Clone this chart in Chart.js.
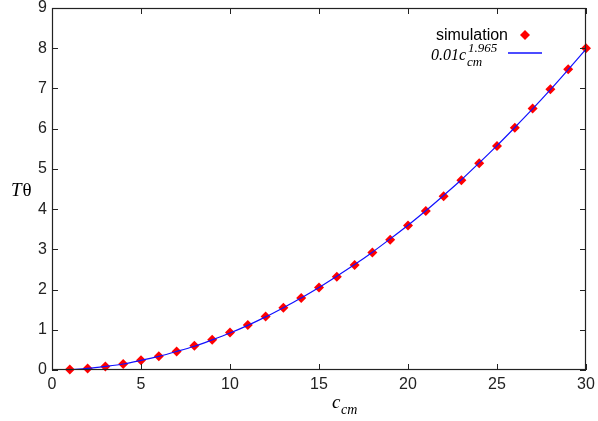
<!DOCTYPE html>
<html>
<head>
<meta charset="utf-8">
<script src="https://cdn.jsdelivr.net/npm/chart.js@4.4.1/dist/chart.umd.min.js"></script>
<style>
  html, body { margin: 0; padding: 0; background: #fff; }
  #wrap { width: 598px; height: 421px; }
</style>
</head>
<body>
<div id="wrap"><canvas id="chart" width="598" height="421"></canvas></div>
<script>
const ccm = [1, 2, 3, 4, 5, 6, 7, 8, 9, 10, 11, 12, 13, 14, 15,
             16, 17, 18, 19, 20, 21, 22, 23, 24, 25, 26, 27, 28, 29, 30];
const simulation = [0.01, 0.04, 0.09, 0.15, 0.24, 0.34, 0.46, 0.60, 0.75, 0.93,
                    1.12, 1.33, 1.55, 1.79, 2.05, 2.32, 2.61, 2.92, 3.24, 3.59,
                    3.95, 4.32, 4.72, 5.14, 5.57, 6.02, 6.50, 6.98, 7.48, 8.00];
// fitted curve 0.01 c^1.965, as drawn in the picture
const fitX = [1, 2, 3, 4, 5, 6, 7, 8, 9, 10, 11, 12, 13, 14, 15,
              16, 17, 18, 19, 20, 21, 22, 23, 24, 25, 26, 27, 28, 29, 30];
const fitY = [0.01, 0.04, 0.09, 0.15, 0.24, 0.34, 0.46, 0.59, 0.75, 0.92,
              1.11, 1.32, 1.55, 1.79, 2.05, 2.33, 2.62, 2.93, 3.26, 3.60,
              3.96, 4.34, 4.73, 5.15, 5.58, 6.03, 6.49, 6.97, 7.47, 7.98];
const xTicks = [0, 5, 10, 15, 20, 25, 30];
const yTicks = [0, 1, 2, 3, 4, 5, 6, 7, 8, 9];

const ink = "#222";
const sans = "'Liberation Sans', Arial, sans-serif";
const serif = "'Liberation Serif', 'Times New Roman', serif";

const pts = ccm.map((c, i) => ({ x: c, y: simulation[i] }));
const fit = fitX.map((c, i) => ({ x: c, y: fitY[i] }));

// inward ticks on all four sides, axis titles and the key
const decor = {
  id: "decor",
  afterDraw(chart) {
    const ctx = chart.ctx;
    const a = chart.chartArea;
    const xs = chart.scales.x, ys = chart.scales.y;
    ctx.save();
    ctx.strokeStyle = ink;
    ctx.lineWidth = 1;
    ctx.beginPath();
    xTicks.forEach(v => {
      const px = Math.round(xs.getPixelForValue(v)) + 0.5;
      ctx.moveTo(px, a.bottom); ctx.lineTo(px, a.bottom - 6);
      ctx.moveTo(px, a.top); ctx.lineTo(px, a.top + 6);
    });
    yTicks.forEach(v => {
      const py = Math.round(ys.getPixelForValue(v)) + 0.5;
      ctx.moveTo(a.left, py); ctx.lineTo(a.left + 6, py);
      ctx.moveTo(a.right, py); ctx.lineTo(a.right - 6, py);
    });
    ctx.stroke();
    ctx.lineWidth = 1.2;
    ctx.strokeRect(a.left + 0.5, a.top + 0.5, a.right - a.left - 1, a.bottom - a.top - 1);

    ctx.fillStyle = "#000";
    ctx.textBaseline = "alphabetic";
    // x title c_cm
    ctx.font = "italic 19px " + serif;
    ctx.textAlign = "left";
    ctx.fillText("c", 332, 408);
    ctx.font = "italic 14px " + serif;
    ctx.fillText("cm", 341, 414);
    // y title T theta
    ctx.font = "italic 19px " + serif;
    ctx.fillText("T", 11, 196);
    const tw = ctx.measureText("T").width;
    ctx.font = "19px " + serif;
    ctx.fillText("θ", 11 + tw + 1, 196);

    // key
    ctx.font = "16px " + sans;
    ctx.textAlign = "right";
    ctx.fillText("simulation", 508, 40);
    ctx.fillStyle = "#ff0000";
    ctx.beginPath();
    ctx.moveTo(525, 30); ctx.lineTo(530, 35); ctx.lineTo(525, 40); ctx.lineTo(520, 35);
    ctx.closePath();
    ctx.fill();

    ctx.fillStyle = "#000";
    ctx.textAlign = "left";
    ctx.font = "italic 16px " + serif;
    ctx.fillText("0.01c", 431, 60);
    const w = ctx.measureText("0.01c").width;
    ctx.font = "italic 13px " + serif;
    ctx.fillText("1.965", 431 + w + 2, 52);
    ctx.fillText("cm", 431 + w + 1, 66);
    ctx.strokeStyle = "#1010ff";
    ctx.lineWidth = 1.3;
    ctx.beginPath();
    ctx.moveTo(508, 53); ctx.lineTo(542, 53);
    ctx.stroke();
    ctx.restore();
  }
};

new Chart(document.getElementById("chart"), {
  type: "scatter",
  data: {
    datasets: [
      {
        label: "0.01c_cm^1.965",
        data: fit,
        showLine: true,
        borderColor: "#1010ff",
        borderWidth: 1.2,
        pointRadius: 0,
        tension: 0.3,
        order: 0
      },
      {
        label: "simulation",
        data: pts,
        pointStyle: "rectRot",
        pointRadius: 5,
        pointBackgroundColor: "#ff0000",
        pointBorderColor: "#ff0000",
        pointBorderWidth: 0,
        order: 1
      }
    ]
  },
  options: {
    responsive: false,
    animation: false,
    clip: false,
    layout: { padding: { left: 0, right: 12, top: 8, bottom: 0 } },
    plugins: { legend: { display: false }, tooltip: { enabled: false } },
    scales: {
      x: {
        type: "linear",
        min: 0, max: 30,
        afterFit(s) { s.height = 51; s.paddingLeft = 0; s.paddingRight = 0; },
        afterBuildTicks(s) { s.ticks = xTicks.map(v => ({ value: v })); },
        grid: { display: false, drawTicks: false },
        border: { display: false },
        ticks: { color: ink, font: { family: sans, size: 16 }, padding: 5, maxRotation: 0 }
      },
      y: {
        type: "linear",
        min: 0, max: 9,
        afterFit(s) { s.width = 52; s.paddingTop = 0; s.paddingBottom = 0; },
        afterBuildTicks(s) { s.ticks = yTicks.map(v => ({ value: v })); },
        grid: { display: false, drawTicks: false },
        border: { display: false },
        ticks: { color: ink, font: { family: sans, size: 16 }, padding: 5 }
      }
    }
  },
  plugins: [decor]
});
</script>
</body>
</html>
